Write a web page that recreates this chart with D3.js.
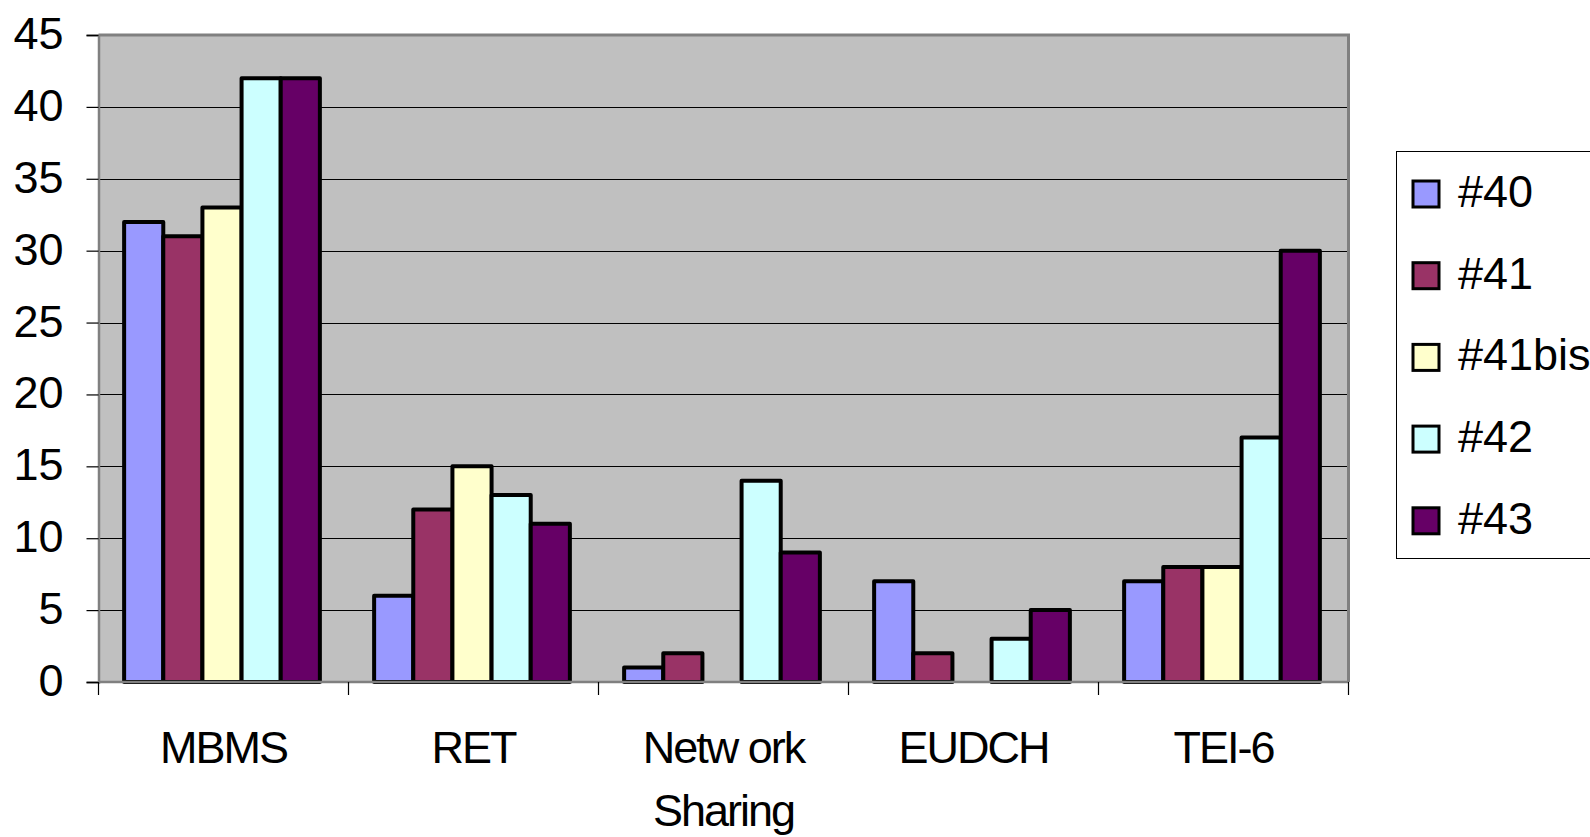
<!DOCTYPE html>
<html><head><meta charset="utf-8">
<script src="https://cdn.jsdelivr.net/npm/d3@7"></script>
<style>body{margin:0;background:#fff;}svg{display:block;}text{font-family:"Liberation Sans",Arial,sans-serif;fill:#000;}</style>
</head><body>
<svg id="chart" width="1590" height="837"></svg>
<script>
const categories = [["MBMS"], ["RET"], ["Netw ork", "Sharing"], ["EUDCH"], ["TEI-6"]];
const seriesNames = ["#40", "#41", "#41bis", "#42", "#43"];
const s40 = [32, 6, 1, 7, 7];
const s41 = [31, 12, 2, 2, 8];
const s41bis = [33, 15, 0, 0, 8];
const s42 = [42, 13, 14, 3, 17];
const s43 = [42, 11, 9, 5, 30];
const yTicks = [0, 5, 10, 15, 20, 25, 30, 35, 40, 45];
const colors = ["#9999FF", "#993366", "#FFFFCC", "#CCFFFF", "#660066"];
const seriesValues = [s40, s41, s41bis, s42, s43];

const svg = d3.select("#chart");
const L = 98.5, R = 1348.5, T = 35, B = 682;
const x0 = d3.scaleBand().domain(d3.range(categories.length)).range([L, R]).padding(0);
const bw = x0.bandwidth();
const groupW = bw * 0.783;
const x1 = d3.scaleBand().domain(d3.range(seriesNames.length)).range([(bw - groupW) / 2 - 1.5, (bw + groupW) / 2 - 1.5]).padding(0);
const y = d3.scaleLinear().domain([0, 45]).range([B, T]);

svg.append("rect").attr("x", L).attr("y", T).attr("width", R - L).attr("height", B - T).attr("fill", "#C0C0C0");

// gridlines
svg.append("g").selectAll("line").data(yTicks.filter(d => d > 0 && d < 45)).join("line")
  .attr("x1", L).attr("x2", R).attr("y1", d => Math.round(y(d)) + 0.5).attr("y2", d => Math.round(y(d)) + 0.5)
  .attr("stroke", "#000").attr("stroke-width", 1.2);

// plot border (top/right gray)
svg.append("path").attr("d", `M${L},${T}H${R}V${B}`).attr("fill", "none").attr("stroke", "#808080").attr("stroke-width", 3);

// bars
const g = svg.append("g");
categories.forEach((c, ci) => {
  seriesValues.forEach((vals, si) => {
    const v = vals[ci];
    if (v <= 0) return;
    g.append("rect")
      .attr("x", x0(ci) + x1(si))
      .attr("y", y(v))
      .attr("width", x1.bandwidth())
      .attr("height", y(0) - y(v))
      .attr("fill", colors[si]).attr("stroke", "#000").attr("stroke-width", 4)
      .attr("stroke-linejoin", "round");
  });
});

// y axis
const yAxis = d3.axisLeft(y).tickValues(yTicks).tickSize(12).tickPadding(23);
const ya = svg.append("g").attr("transform", `translate(${L},0)`).call(yAxis);
ya.select(".domain").attr("stroke", "#808080").attr("stroke-width", 2.5);
ya.selectAll(".tick line").attr("stroke", "#000").attr("stroke-width", 1.2);
ya.selectAll(".tick text").attr("font-size", 45).attr("font-family", "Liberation Sans, Arial, sans-serif").attr("fill", "#000").attr("dy", "0.3em");

// x axis
const xa = svg.append("g").attr("transform", `translate(0,${B})`);
xa.append("line").attr("x1", L).attr("x2", R).attr("y1", 0).attr("y2", 0).attr("stroke", "#808080").attr("stroke-width", 2.5);
xa.selectAll("line.tk").data(d3.range(categories.length + 1)).join("line").attr("class", "tk")
  .attr("x1", i => L + i * bw).attr("x2", i => L + i * bw).attr("y1", 0).attr("y2", 13)
  .attr("stroke", "#000").attr("stroke-width", 1.2);
categories.forEach((lines, ci) => {
  const t = xa.append("text").attr("text-anchor", "middle").attr("font-size", 45).attr("letter-spacing", "-2px")
    .attr("x", x0(ci) + bw / 2);
  lines.forEach((ln, li) => {
    t.append("tspan").attr("x", x0(ci) + bw / 2).attr("y", 81 + li * 63).text(ln);
  });
});

// legend
const lg = svg.append("g");
lg.append("rect").attr("x", 1396.5).attr("y", 151.5).attr("width", 250).attr("height", 407).attr("fill", "#fff").attr("stroke", "#000").attr("stroke-width", 1);
seriesNames.forEach((n, i) => {
  const cy = 194 + i * 81.7;
  lg.append("rect").attr("x", 1413).attr("y", cy - 13).attr("width", 26).attr("height", 26)
    .attr("fill", colors[i]).attr("stroke", "#000").attr("stroke-width", 3);
  lg.append("text").attr("x", 1458).attr("y", cy + 13).attr("font-size", 45).text(n);
});
</script>
</body></html>
